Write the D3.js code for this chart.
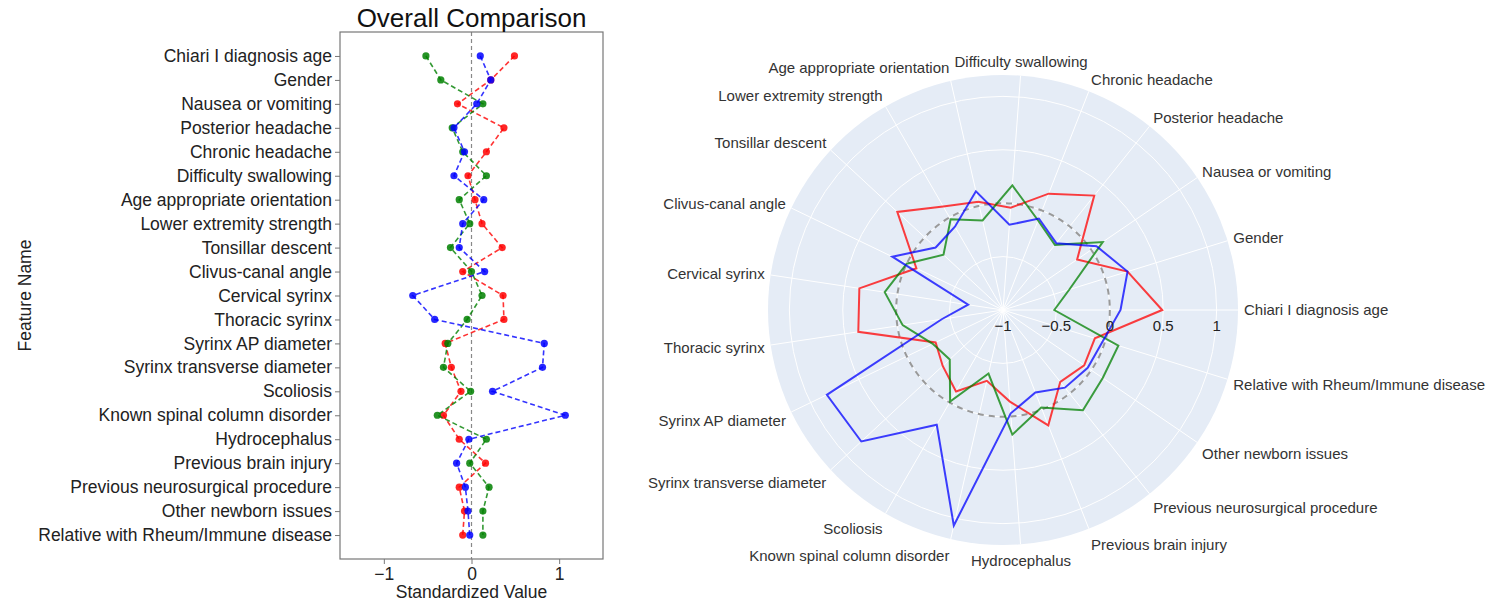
<!DOCTYPE html>
<meta charset="utf-8">
<style>
body { margin: 0; background: #fff; }
svg text { font-family: "Liberation Sans", Arial, Helvetica, sans-serif; }
.axis path { stroke: none; }
</style>
<head>
    <title>Overall Comparison</title>
</head>

<!-- Load d3.js -->
<script src="https://d3js.org/d3.v7.min.js"></script>

<div id="viz"></div>

<script>
// feature names, in the order of the left panel (top to bottom)
var features = ["Chiari I diagnosis age", "Gender", "Nausea or vomiting", "Posterior headache",
    "Chronic headache", "Difficulty swallowing", "Age appropriate orientation",
    "Lower extremity strength", "Tonsillar descent", "Clivus-canal angle", "Cervical syrinx",
    "Thoracic syrinx", "Syrinx AP diameter", "Syrinx transverse diameter", "Scoliosis",
    "Known spinal column disorder", "Hydrocephalus", "Previous brain injury",
    "Previous neurosurgical procedure", "Other newborn issues", "Relative with Rheum/Immune disease"];

// standardized values per group
var redValues   = [0.49, 0.22, -0.16, 0.37, 0.17, -0.04, 0.04, 0.12, 0.35, -0.10, 0.36,
                   0.37, -0.30, -0.23, -0.12, -0.32, -0.14, 0.16, -0.14, -0.08, -0.10];
var greenValues = [-0.52, -0.35, 0.13, -0.22, -0.10, 0.17, -0.14, -0.02, -0.24, 0.00, 0.12,
                   -0.05, -0.27, -0.32, -0.01, -0.39, 0.17, -0.02, 0.20, 0.13, 0.13];
var blueValues  = [0.10, 0.22, 0.06, -0.20, -0.08, -0.20, 0.14, -0.10, -0.14, 0.15, -0.67,
                   -0.42, 0.83, 0.81, 0.24, 1.07, -0.03, -0.17, -0.07, -0.04, -0.02];

var xTicks = [-1, 0, 1];
var radialTicks = [-1, -0.5, 0, 0.5, 1];

var series = [
    {color: "#f00", values: redValues},
    {color: "#008000", values: greenValues},
    {color: "#00f", values: blueValues}
];

var svg = d3.select("#viz")
    .append("svg")
        .attr("width", 1511)
        .attr("height", 603);

// ---------- left panel: dot plot ----------
var box = {left: 340, right: 603, top: 32, bottom: 559};

var x = d3.scaleLinear()
    .domain([-1.5, 1.5])
    .range([box.left, box.right]);

var y = d3.scalePoint()
    .domain(features)
    .range([box.top, box.bottom])
    .padding(1);

var left = svg.append("g");

// zero reference line
left.append("line")
    .attr("x1", x(0)).attr("x2", x(0))
    .attr("y1", box.top).attr("y2", box.bottom)
    .attr("stroke", "#888")
    .attr("stroke-width", 1.2)
    .attr("stroke-dasharray", "4,3");

series.forEach(function(s) {
    var line = d3.line()
        .x(function(d) { return x(d); })
        .y(function(d, i) { return y(features[i]); });
    left.append("path")
        .datum(s.values)
        .attr("d", line)
        .attr("fill", "none")
        .attr("stroke", s.color)
        .attr("stroke-width", 1.6)
        .attr("stroke-dasharray", "5,3")
        .attr("opacity", 0.8);
    left.selectAll(null)
        .data(s.values)
        .enter()
        .append("circle")
        .attr("cx", function(d) { return x(d); })
        .attr("cy", function(d, i) { return y(features[i]); })
        .attr("r", 3.6)
        .attr("fill", s.color)
        .attr("opacity", 0.85);
});

// frame
left.append("rect")
    .attr("x", box.left).attr("y", box.top)
    .attr("width", box.right - box.left)
    .attr("height", box.bottom - box.top)
    .attr("fill", "none")
    .attr("stroke", "#777")
    .attr("stroke-width", 1.2);

var yAxis = left.append("g")
    .attr("class", "axis")
    .attr("transform", "translate(" + box.left + ",0)")
    .call(d3.axisLeft(y).tickSize(5).tickPadding(3));
yAxis.selectAll("line").attr("stroke", "#777");
yAxis.selectAll("text").attr("font-size", 17.5).attr("fill", "#222")
    .attr("font-family", "'Liberation Sans', Arial, sans-serif");

var xAxis = left.append("g")
    .attr("class", "axis")
    .attr("transform", "translate(0," + box.bottom + ")")
    .call(d3.axisBottom(x).tickValues(xTicks).tickFormat(d3.format("")).tickSize(5).tickPadding(4));
xAxis.selectAll("line").attr("stroke", "#777");
xAxis.selectAll("text").attr("font-size", 17.5).attr("fill", "#222")
    .attr("font-family", "'Liberation Sans', Arial, sans-serif");

left.append("text")
    .attr("x", (box.left + box.right) / 2)
    .attr("y", 27)
    .attr("text-anchor", "middle")
    .attr("font-size", 26)
    .attr("fill", "#111")
    .text("Overall Comparison");

left.append("text")
    .attr("x", (box.left + box.right) / 2)
    .attr("y", 598)
    .attr("text-anchor", "middle")
    .attr("font-size", 17.5)
    .attr("fill", "#222")
    .text("Standardized Value");

left.append("text")
    .attr("transform", "translate(31," + ((box.top + box.bottom) / 2) + ") rotate(-90)")
    .attr("text-anchor", "middle")
    .attr("font-size", 17.5)
    .attr("fill", "#222")
    .text("Feature Name");

// ---------- right panel: radar ----------
var cx = 1003, cy = 310, outer = 235;

var r = d3.scaleLinear()
    .domain([-1, 1.2])
    .range([0, outer]);

// angle (counter-clockwise from east) per feature
var ang = d3.scaleLinear()
    .domain([0, features.length])
    .range([0, 2 * Math.PI]);

var radar = svg.append("g")
    .attr("transform", "translate(" + cx + "," + cy + ")");

radar.append("circle")
    .attr("r", outer)
    .attr("fill", "#e5ecf6");

// grid circles
radar.selectAll(".ring")
    .data(radialTicks.filter(function(t) { return t > -1; }))
    .enter()
    .append("circle")
    .attr("r", function(d) { return r(d); })
    .attr("fill", "none")
    .attr("stroke", "#fff")
    .attr("stroke-width", 1);

// spokes
radar.selectAll(".spoke")
    .data(features)
    .enter()
    .append("line")
    .attr("x1", 0).attr("y1", 0)
    .attr("x2", function(d, i) { return outer * Math.cos(ang(i)); })
    .attr("y2", function(d, i) { return -outer * Math.sin(ang(i)); })
    .attr("stroke", "#fff")
    .attr("stroke-width", 1);

// zero reference circle
radar.append("circle")
    .attr("r", r(0))
    .attr("fill", "none")
    .attr("stroke", "#999")
    .attr("stroke-width", 2)
    .attr("stroke-dasharray", "6,5");

var radial = d3.lineRadial()
    .angle(function(d, i) { return Math.PI / 2 - ang(i); })
    .radius(function(d) { return r(d); })
    .curve(d3.curveLinearClosed);

series.forEach(function(s) {
    radar.append("path")
        .datum(s.values)
        .attr("d", radial)
        .attr("fill", "none")
        .attr("stroke", s.color)
        .attr("stroke-width", 2)
        .attr("opacity", 0.75);
});

// radial tick labels
radar.selectAll(".rtick")
    .data(radialTicks)
    .enter()
    .append("text")
    .attr("x", function(d) { return r(d); })
    .attr("y", 21)
    .attr("text-anchor", "middle")
    .attr("font-size", 15)
    .attr("fill", "#222")
    .text(function(d) { return d3.format("")(d); });

// angular labels
var pad = 6, fs = 15;
radar.selectAll(".alabel")
    .data(features)
    .enter()
    .append("text")
    .attr("x", function(d, i) { return (outer + pad) * Math.cos(ang(i)); })
    .attr("y", function(d, i) {
        var a = ang(i), s = Math.sin(a);
        var ff = s > 0 ? 0.2 : 1;
        return -outer * s - s * (pad + fs * ff) + Math.abs(Math.cos(a)) * fs * 0.35;
    })
    .attr("text-anchor", function(d, i) {
        var c = Math.cos(ang(i));
        return Math.abs(c) < 0.1 ? "middle" : (c > 0 ? "start" : "end");
    })
    .attr("font-size", fs)
    .attr("fill", "#333")
    .text(function(d) { return d; });
</script>
